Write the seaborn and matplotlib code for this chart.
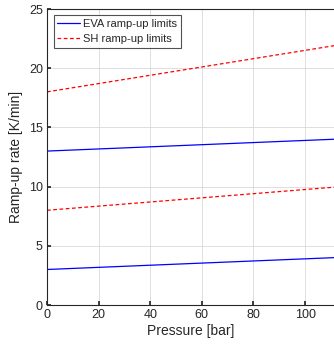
import matplotlib
matplotlib.use("Agg")
import matplotlib.pyplot as plt
import seaborn as sns
import pandas as pd

# Ramp-up limits as linear functions of pressure (end points)
pressure = [0, 111.2]
eva_low = [3.0, 4.0]
eva_high = [13.0, 14.0]
sh_low = [8.0, 9.95]
sh_high = [18.0, 21.9]

x_ticks = [0, 20, 40, 60, 80, 100]
y_ticks = [0, 5, 10, 15, 20, 25]

sns.set_theme(style="white")
plt.rcParams["font.family"] = ["Liberation Sans", "DejaVu Sans"]

fig = plt.figure(figsize=(3.34, 3.46), dpi=100)
ax = fig.add_axes([47 / 334, 41 / 346, 287 / 334, 296 / 346])

txt = "#262626"
df = pd.DataFrame({"p": pressure, "el": eva_low, "eh": eva_high, "sl": sh_low, "sh": sh_high})

sns.lineplot(data=df, x="p", y="el", ax=ax, color="#0000ff", lw=0.9, label="EVA ramp-up limits")
sns.lineplot(data=df, x="p", y="eh", ax=ax, color="#0000ff", lw=0.9)
sns.lineplot(data=df, x="p", y="sl", ax=ax, color="#ff0000", lw=0.9, ls=(0, (3, 2)), label="SH ramp-up limits")
sns.lineplot(data=df, x="p", y="sh", ax=ax, color="#ff0000", lw=0.9, ls=(0, (3, 2)))

ax.set_xlim(0, 111.2)
ax.set_ylim(0, 25)
ax.set_xticks(x_ticks)
ax.set_yticks(y_ticks)
ax.grid(True, color="#d9d9d9", lw=0.6)
ax.set_axisbelow(True)

for s in ["left", "bottom", "top"]:
    ax.spines[s].set_color("#262626")
    ax.spines[s].set_linewidth(0.8)
ax.spines["right"].set_visible(False)

ax.tick_params(axis="both", which="both", labelsize=9, colors=txt, length=3, direction="in",
               bottom=True, left=True, pad=3)
ax.set_xlabel("Pressure [bar]", fontsize=10, color=txt, labelpad=2)
ax.set_ylabel("Ramp-up rate [K/min]", fontsize=10, color=txt, labelpad=4)

leg = ax.legend(loc="upper left", fontsize=8, frameon=True, fancybox=False,
                borderpad=0.35, labelspacing=0.45, handlelength=2.0, handletextpad=0.3,
                bbox_to_anchor=(0.023, 0.98), borderaxespad=0.0)
leg.get_frame().set_edgecolor("#262626")
leg.get_frame().set_linewidth(0.8)
for t in leg.get_texts():
    t.set_color(txt)

fig.savefig("out.png", dpi=100)
